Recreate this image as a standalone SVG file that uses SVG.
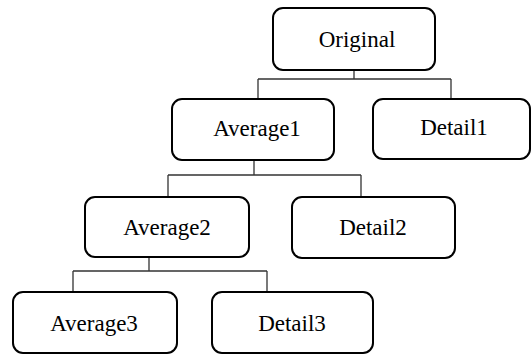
<svg xmlns="http://www.w3.org/2000/svg" width="531" height="354" viewBox="0 0 531 354">
<style>
.box{fill:#fff;stroke:#000;stroke-width:2}
.lbl{font-family:"Liberation Serif","Times New Roman",serif;font-size:23px;fill:#000;text-anchor:middle}
.conn{fill:none;stroke:#333;stroke-width:1.3}
</style>
<rect width="531" height="354" fill="#fff"/>
<g id="connectors">
<path class="conn" d="M354 70V79M258 79H451M258 79V99M451 79V99"/>
<path class="conn" d="M254 160V175M168 175H361M168 175V197M361 175V197"/>
<path class="conn" d="M149 258V271M73 271H267M73 271V292M267 271V292"/>
</g>
<g id="original"><rect class="box" x="273" y="8" width="162" height="62" rx="10"/><text class="lbl" x="357" y="47">Original</text></g>
<g id="average1"><rect class="box" x="172" y="99" width="162" height="61" rx="10"/><text class="lbl" x="257" y="136">Average1</text></g>
<g id="detail1"><rect class="box" x="373" y="99" width="157" height="60" rx="10"/><text class="lbl" x="454" y="135">Detail1</text></g>
<g id="average2"><rect class="box" x="85" y="197" width="164" height="60" rx="10"/><text class="lbl" x="167" y="235">Average2</text></g>
<g id="detail2"><rect class="box" x="292" y="197" width="163" height="61" rx="10"/><text class="lbl" x="373" y="235">Detail2</text></g>
<g id="average3"><rect class="box" x="13" y="292" width="164" height="61" rx="10"/><text class="lbl" x="94" y="331">Average3</text></g>
<g id="detail3"><rect class="box" x="212" y="292" width="161" height="61" rx="10"/><text class="lbl" x="292" y="331">Detail3</text></g>
</svg>
